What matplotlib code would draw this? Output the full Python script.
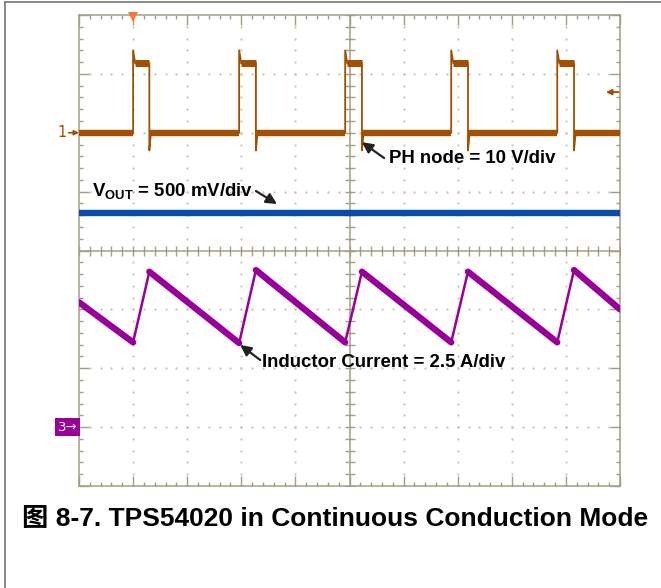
import numpy as np
import matplotlib.pyplot as plt
from matplotlib.lines import Line2D

plt.rcParams['mathtext.fontset'] = 'custom'
plt.rcParams['mathtext.rm'] = 'Liberation Sans'
plt.rcParams['mathtext.bf'] = 'Liberation Sans:bold'

# --- данные осциллограммы (время в мкс, 1 мкс/дел) ---
# канал 1: PH node, 10 V/div, ноль на +2 дел
ph_rise = [1.00, 2.96, 4.92, 6.88, 8.84]
ph_fall = [1.30, 3.27, 5.23, 7.19, 9.15]
ph_low = 0.0
ph_high = 11.8
ph_peak = 14.0
ph_dip = -3.0
ph_scale, ph_pos = 10.0, 2.0

# канал 2: VOUT, 500 mV/div (AC)
vout_time = [0.0, 10.0]
vout_volts = [0.0, 0.0]
vout_scale, vout_pos = 0.5, 0.64

# канал 3: ток дросселя, 2.5 A/div, ноль на -3 дел
il_time = [0.0, 1.00, 1.30, 2.96, 3.27, 4.92, 5.23, 6.88, 7.19, 8.84, 9.15, 10.0]
il_amps = [5.3, 3.6, 6.6, 3.57, 6.67, 3.6, 6.6, 3.6, 6.6, 3.6, 6.67, 5.0]
il_scale, il_pos = 2.5, -3.0

trig_level = 6.9  # V, канал 1

c_ph = '#a14f00'
c_vout = '#0a4aa8'
c_il = '#990099'
c_grid = '#a39e80'
c_dot = '#c8c2a4'

fig = plt.figure(figsize=(6.61, 5.88), dpi=100)
ax = fig.add_axes([79 / 661, 102 / 588, 541 / 661, 471 / 588])
ax.set_xlim(0, 10)
ax.set_ylim(-4, 4)

# рамка и засечки
for s in ax.spines.values():
    s.set_color(c_grid)
    s.set_linewidth(1.1)
ax.set_xticks(np.arange(0, 11, 1))
ax.set_yticks(np.arange(-4, 5, 1))
ax.set_xticks(np.arange(0, 10.01, 0.2), minor=True)
ax.set_yticks(np.arange(-4, 4.01, 0.2), minor=True)
ax.tick_params(which='both', direction='in', top=True, right=True,
               labelbottom=False, labelleft=False, color=c_grid, width=1)
ax.tick_params(which='major', length=7.5)
ax.tick_params(which='minor', length=3.2)

# точечная сетка
minor = np.arange(0, 10.01, 0.2)
minor_y = np.arange(-4, 4.01, 0.2)
for xv in range(1, 10):
    if xv != 5:
        ax.plot(np.full(minor_y.size, xv), minor_y, ls='none', marker='s', ms=1.4,
                mew=0, color=c_dot, zorder=1)
for yv in range(-3, 4):
    if yv != 0:
        ax.plot(minor, np.full(minor.size, yv), ls='none', marker='s', ms=1.4,
                mew=0, color=c_dot, zorder=1)

# центральный крест
ax.axvline(5, color=c_grid, lw=1.1, zorder=1)
ax.axhline(0, color=c_grid, lw=1.1, zorder=1)
ax.plot(minor, np.zeros(minor.size), ls='none', marker='|', ms=7, mew=1, color=c_grid, zorder=1)
ax.plot(np.full(minor_y.size, 5), minor_y, ls='none', marker='_', ms=7, mew=1, color=c_grid, zorder=1)


def ph_div(v):
    return ph_pos + np.asarray(v) / ph_scale


# канал 1: полки толстые, фронты тонкие
lows = [0.0] + ph_fall
lows_end = ph_rise + [10.0]
for a, b in zip(lows, lows_end):
    ax.plot([a, b], ph_div([ph_low, ph_low]), color=c_ph, lw=4.6, solid_capstyle='butt', zorder=3)
for a, b in zip(ph_rise, ph_fall):
    ax.plot([a + 0.03, b], ph_div([ph_high, ph_high]), color=c_ph, lw=5.0, solid_capstyle='butt', zorder=3)
    ax.plot([a, a, a + 0.04], ph_div([ph_low, ph_peak, ph_high]), color=c_ph, lw=1.3, zorder=3)
    ax.plot([b, b, b + 0.03], ph_div([ph_high, ph_dip, ph_low]), color=c_ph, lw=1.3, zorder=3)

# канал 2
ax.plot(vout_time, vout_pos + np.asarray(vout_volts) / vout_scale, color=c_vout, lw=4.6, zorder=3)

# канал 3: спад толстый, нарастание тонкое
il_div = il_pos + np.asarray(il_amps) / il_scale
for i in range(len(il_time) - 1):
    rising = il_amps[i + 1] > il_amps[i]
    ax.plot(il_time[i:i + 2], il_div[i:i + 2], color=c_il,
            lw=1.8 if rising else 4.6, solid_capstyle='round', zorder=3)

# маркеры каналов
ytr = ax.get_yaxis_transform()
ax.text(-0.022, ph_pos, '1', transform=ytr, ha='right', va='center', color=c_ph,
        fontsize=10.5, family='DejaVu Sans')
ax.annotate('', xy=(0, ph_pos), xycoords=ytr, xytext=(-0.019, ph_pos), textcoords=ytr,
            arrowprops=dict(arrowstyle='-|>', color=c_ph, lw=1.2, mutation_scale=7,
                            shrinkA=0, shrinkB=0))
ax.text(-0.003, il_pos, '3\u2192', transform=ytr, ha='right', va='center', color='white',
        fontsize=9.5, family='DejaVu Sans',
        bbox=dict(boxstyle='square,pad=0.2', fc=c_il, ec='none'))
ax.plot(1.0, 3.97, marker='v', ms=7, color='#ff7433', mew=0, clip_on=False, zorder=4)
ax.annotate('', xy=(9.74, ph_div(trig_level)), xytext=(9.97, ph_div(trig_level)),
            arrowprops=dict(arrowstyle='-|>', color=c_ph, lw=1.4, mutation_scale=8,
                            shrinkA=0, shrinkB=0))

# подписи
lab = dict(fontsize=13.4, weight='bold', family='Liberation Sans', color='black', zorder=5)
arr = dict(arrowstyle='-|>', color='#222222', lw=1.6, mutation_scale=16, shrinkA=0, shrinkB=0)
ax.text(0.24, 0.91, r'$\mathbf{V}_{\mathbf{OUT}}$ = 500 mV/div', **lab)
ax.annotate('', xy=(3.66, 0.79), xytext=(3.27, 1.01), arrowprops=arr)
ax.text(5.73, 1.49, 'PH node = 10 V/div', **lab)
ax.annotate('', xy=(5.23, 1.84), xytext=(5.64, 1.57), arrowprops=arr)
ax.text(3.38, -1.98, 'Inductor Current = 2.5 A/div', **lab)
ax.annotate('', xy=(2.98, -1.605), xytext=(3.35, -1.86), arrowprops=arr)

# подпись рисунка и рамка страницы
fig.text(22 / 661, 1 - 526 / 588, '图 8-7. TPS54020 in Continuous Conduction Mode',
         family=['Liberation Sans', 'Noto Sans CJK SC'], weight='bold', fontsize=19,
         va='baseline')
fig.add_artist(Line2D([4.5 / 661, 4.5 / 661], [0, 1 - 1.5 / 588], transform=fig.transFigure,
                      color='#777777', lw=1.2))
fig.add_artist(Line2D([4.5 / 661, 1], [1 - 1.5 / 588, 1 - 1.5 / 588], transform=fig.transFigure,
                      color='#777777', lw=1.2))

fig.savefig('out.png', dpi=100)
